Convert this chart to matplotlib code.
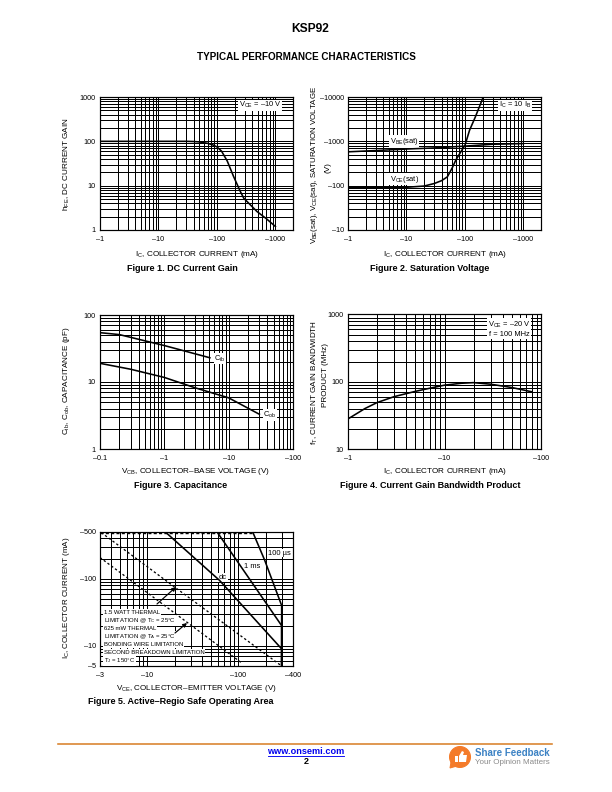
# -*- coding: utf-8 -*-
"""
KSP92 typical performance characteristics page
"""
import matplotlib
matplotlib.use('Agg')
import matplotlib.pyplot as plt
from matplotlib.lines import Line2D
from matplotlib.patches import Circle, FancyArrowPatch, Polygon, Rectangle
from matplotlib.ticker import FixedLocator, NullFormatter

plt.rcParams['font.family'] = ['Liberation Sans', 'DejaVu Sans']
plt.rcParams['mathtext.fontset'] = 'custom'
plt.rcParams['mathtext.rm'] = 'Liberation Sans'
plt.rcParams['mathtext.it'] = 'Liberation Sans'
plt.rcParams['mathtext.default'] = 'rm'

# Figure 1
f1_ic = [1, 3, 10, 30, 40, 50, 70, 85, 100, 120, 150, 193, 250, 288, 486, 700, 1000]
f1_hfe = [100, 100, 100, 100, 99, 97, 90, 83, 75, 60, 36, 16, 7.5, 5.2, 2.6, 1.8, 1.2]

# Figure 2
f2_ic_vbe = [1, 3, 10, 30, 100, 300, 1000]
f2_vbe = [580, 620, 670, 710, 780, 860, 890]
f2_ic_vce = [1, 5, 10, 20, 30, 40, 50, 60, 70, 85, 100, 120, 150, 200]
f2_vce = [92, 92, 92, 98, 112, 130, 158, 245, 380, 580, 810, 1780, 3500, 9100]

# Figure 3
f3_v_cib = [0.1, 0.2, 1, 5.1]
f3_cib = [54.5, 51, 35, 23]
f3_v_cob = [0.1, 0.3, 1, 3, 10, 30]
f3_cob = [19, 15.5, 11.7, 8.2, 5.8, 3.3]

# Figure 4
f4_ic = [1, 1.5, 2, 3, 5, 7, 10, 15, 20, 30, 50, 80]
f4_ft = [28, 40, 49, 60, 72, 80, 89, 95, 97, 92, 82, 71]

# Figure 5
f5_v_bond = [3, 145]
f5_i_bond = [490, 490]
f5_v_15w = [3.1, 20, 300]
f5_i_15w = [490, 75, 5]
f5_v_625 = [3, 110]
f5_i_625 = [208, 5.5]
f5_v_dc = [16, 62, 300, 300]
f5_i_dc = [490, 95, 9, 5]
f5_v_1ms = [59, 300, 300]
f5_i_1ms = [490, 20, 5]
f5_v_100 = [145, 195, 300, 300]
f5_i_100 = [490, 190, 40, 5]

legend_lines = ['1.5 WATT THERMAL', r'LIMITATION @ T$_{C}$ = 25°C', '625 mW THERMAL',
                r'LIMITATION @ T$_{A}$ = 25°C', 'BONDING WIRE LIMITATION',
                'SECOND BREAKDOWN LIMITATION', r'T$_{J}$ = 150°C']

W, H = 612.0, 792.0
fig = plt.figure(figsize=(8.5, 11), dpi=72)


def ptext(x, y, s, **kw):
    kw.setdefault('ha', 'center')
    kw.setdefault('va', 'center')
    return fig.text(x / W, 1 - y / H, s, **kw)


def make_ax(left, right, top, bottom, xlim, ylim, xticks, yticks, xminor, yminor):
    ax = fig.add_axes([left / W, 1 - bottom / H, (right - left) / W, (bottom - top) / H])
    ax.set_xscale('log')
    ax.set_yscale('log')
    ax.set_xlim(xlim)
    ax.set_ylim(ylim)
    ax.xaxis.set_major_locator(FixedLocator(xticks))
    ax.yaxis.set_major_locator(FixedLocator(yticks))
    ax.xaxis.set_minor_locator(FixedLocator(xminor))
    ax.yaxis.set_minor_locator(FixedLocator(yminor))
    ax.xaxis.set_minor_formatter(NullFormatter())
    ax.yaxis.set_minor_formatter(NullFormatter())
    ax.grid(True, which='both', color='black', linewidth=1.0)
    ax.tick_params(which='both', length=0, labelsize=7.2, pad=4)
    ax.tick_params(axis='x', pad=6)
    ax.set_axisbelow(True)
    for sp in ax.spines.values():
        sp.set_linewidth(1.2)
    return ax


def decades(lo, hi):
    vals = []
    d = 1e-2
    while d < hi * 10:
        for m in range(1, 10):
            v = d * m
            if lo < v < hi:
                vals.append(v)
        d *= 10
    return vals


def box(ax, x, y, s, size=7.5):
    ax.text(x, y, s, ha='center', va='center', fontsize=size, zorder=4,
            bbox=dict(facecolor='white', edgecolor='none', pad=0.7))


# page header
ptext(310, 29.5, 'KSP92', fontsize=12, fontweight='bold')
ptext(306, 57.3, 'TYPICAL PERFORMANCE CHARACTERISTICS', fontsize=9.9, fontweight='bold')

# Figure 1
ax1 = make_ax(100, 293, 97, 230, (1, 2000), (1, 1000), [1, 10, 100, 1000], [1, 10, 100, 1000],
              decades(1, 2000), decades(1, 1000))
ax1.set_xticklabels(['–1', '–10', '–100', '–1000'])
ax1.set_yticklabels(['1', '10', '100', '1000'])
ax1.plot(f1_ic, f1_hfe, color='black', linewidth=1.6, zorder=5)
box(ax1, 550, 650, r'V$_{CE}$ = –10 V')
ptext(197, 254, r'I$_{C}$, COLLECTOR CURRENT (mA)', fontsize=8.1)
ptext(67, 164, r'h$_{FE}$, DC CURRENT GAIN', fontsize=8.1, rotation=90)
ptext(182, 268.5, 'Figure 1. DC Current Gain', fontsize=9, fontweight='bold')

# Figure 2
ax2 = make_ax(348, 541, 97, 230, (1, 2000), (10, 10000), [1, 10, 100, 1000], [10, 100, 1000, 10000],
              decades(1, 2000), decades(10, 10000))
ax2.set_xticklabels(['–1', '–10', '–100', '–1000'])
ax2.set_yticklabels(['–10', '–100', '–1000', '–10000'])
ax2.plot(f2_ic_vbe, f2_vbe, color='black', linewidth=1.6, zorder=5)
ax2.plot(f2_ic_vce, f2_vce, color='black', linewidth=1.6, zorder=5)
box(ax2, 9.1, 1000, r'V$_{BE}$(sat)')
box(ax2, 9.1, 140, r'V$_{CE}$(sat)')
box(ax2, 720, 6500, r'I$_{C}$ = 10 I$_{B}$')
ptext(445, 254, r'I$_{C}$, COLLECTOR CURRENT (mA)', fontsize=8.1)
ptext(314.5, 164.5, r'V$_{BE}$(sat), V$_{CE}$(sat), SATURATION VOLTAGE', fontsize=7.85, rotation=90)
ptext(328, 168, '(V)', fontsize=8.1, rotation=90)
ptext(430, 268.5, 'Figure 2. Saturation Voltage', fontsize=9, fontweight='bold')

# Figure 3
ax3 = make_ax(100, 293, 315, 449, (0.1, 100), (1, 100), [0.1, 1, 10, 100], [1, 10, 100],
              decades(0.1, 100), decades(1, 100))
ax3.set_xticklabels(['–0.1', '–1', '–10', '–100'])
ax3.set_yticklabels(['1', '10', '100'])
ax3.plot(f3_v_cib, f3_cib, color='black', linewidth=1.6, zorder=5)
ax3.plot(f3_v_cob, f3_cob, color='black', linewidth=1.6, zorder=5)
box(ax3, 7.3, 22.5, r'C$_{ib}$')
box(ax3, 44, 3.2, r'C$_{ob}$')
ptext(196, 472, r'V$_{CB}$, COLLECTOR–BASE VOLTAGE (V)', fontsize=8.1)
ptext(67, 381, r'C$_{ib}$, C$_{ob}$, CAPACITANCE (pF)', fontsize=8.1, rotation=90)
ptext(181, 485, 'Figure 3. Capacitance', fontsize=9, fontweight='bold')

# Figure 4
ax4 = make_ax(348, 541, 314.5, 449, (1, 100), (10, 1000), [1, 10, 100], [10, 100, 1000],
              decades(1, 100), decades(10, 1000))
ax4.set_xticklabels(['–1', '–10', '–100'])
ax4.set_yticklabels(['10', '100', '1000'])
ax4.plot(f4_ic, f4_ft, color='black', linewidth=1.6, zorder=5)
box(ax4, 47, 610, 'V$_{CE}$ = –20 V\nf = 100 MHz')
ptext(445, 472, r'I$_{C}$, COLLECTOR CURRENT (mA)', fontsize=8.1)
ptext(315, 382, r'f$_{T}$, CURRENT GAIN BANDWIDTH', fontsize=8.1, rotation=90)
ptext(325.5, 375, 'PRODUCT (MHz)', fontsize=8.1, rotation=90)
ptext(430, 485, 'Figure 4. Current Gain Bandwidth Product', fontsize=9, fontweight='bold')

# Figure 5
ax5 = make_ax(100, 293, 532, 666, (3, 400), (5, 500), [3, 10, 100, 400], [5, 10, 100, 500],
              decades(3, 400), decades(5, 500))
ax5.set_xticklabels(['–3', '–10', '–100', '–400'])
ax5.set_yticklabels(['–5', '–10', '–100', '–500'])
ax5.plot(f5_v_bond, f5_i_bond, color='black', linewidth=1.4, linestyle=(0, (2.2, 1.6)), zorder=5)
ax5.plot(f5_v_15w, f5_i_15w, color='black', linewidth=1.3, linestyle=(0, (1.8, 1.8)), zorder=5)
ax5.plot(f5_v_625, f5_i_625, color='black', linewidth=1.3, linestyle=(0, (1.8, 1.8)), zorder=5)
ax5.plot(f5_v_dc, f5_i_dc, color='black', linewidth=1.6, zorder=5)
ax5.plot(f5_v_1ms, f5_i_1ms, color='black', linewidth=1.6, zorder=5)
ax5.plot(f5_v_100, f5_i_100, color='black', linewidth=1.6, zorder=5)
box(ax5, 68, 105, 'dc')
box(ax5, 143, 154, '1 ms')
box(ax5, 280, 241, '100 µs')
ptext(196.5, 689, r'V$_{CE}$, COLLECTOR–EMITTER VOLTAGE (V)', fontsize=8.0)
ptext(67, 598, r'I$_{C}$, COLLECTOR CURRENT (mA)', fontsize=8.0, rotation=90)
ptext(181, 702, 'Figure 5. Active–Regio Safe Operating Area', fontsize=9, fontweight='bold')

for i, line in enumerate(legend_lines):
    ptext(103.5, 612.7 + 8 * i, line, fontsize=6.0, ha='left',
          bbox=dict(facecolor='white', edgecolor='none', pad=0.9))

# arrows from the legend to the thermal limit lines
for x0, y0, x1, y1 in [(157, 604, 176, 587), (175, 633, 187, 623)]:
    fig.add_artist(FancyArrowPatch(
        (x0 / W, 1 - y0 / H), (x1 / W, 1 - y1 / H), transform=fig.transFigure,
        arrowstyle='-|>', mutation_scale=8, color='black', linewidth=1.2, zorder=7,
        shrinkA=0, shrinkB=0))

# footer
fig.add_artist(Line2D([58 / W, 552 / W], [1 - 744 / H] * 2, color='#D9822B', linewidth=1.6))
ptext(306, 752, 'www.onsemi.com', fontsize=9.1, fontweight='bold', color='#0000EE')
fig.add_artist(Line2D([268 / W, 344 / W], [1 - 756.3 / H] * 2, color='#0000EE', linewidth=0.9))
ptext(306, 762, '2', fontsize=9, fontweight='bold')

icon = fig.add_axes([0, 0, 1, 1], zorder=8)
icon.set_xlim(0, W)
icon.set_ylim(H, 0)
icon.axis('off')
icon.patch.set_alpha(0)
icon.add_patch(Circle((460, 757), 10.5, color='#F47B2A'))
icon.add_patch(Polygon([(451, 762), (450, 768), (457, 766)], color='#F47B2A'))
icon.add_patch(Rectangle((455, 756), 3, 6, facecolor='white', edgecolor='none'))
icon.add_patch(Polygon([(459, 756), (462, 751), (464, 752), (463, 755), (467, 755), (466, 762), (459, 762)],
                       facecolor='white', edgecolor='none'))
ptext(475, 753.5, 'Share Feedback', fontsize=9.8, fontweight='bold', color='#3C82C4', ha='left')
ptext(475, 762.5, 'Your Opinion Matters', fontsize=8, color='#8A8A8A', ha='left')

plt.savefig('out.png', dpi=72)
plt.close()
print('[OK] out.png')
